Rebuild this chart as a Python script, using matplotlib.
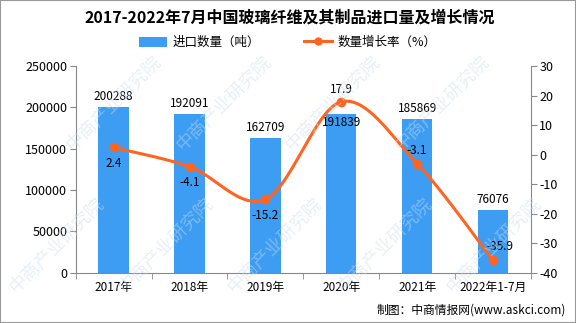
import matplotlib
matplotlib.use('Agg')
import matplotlib.pyplot as plt
import numpy as np
from matplotlib.patches import Rectangle
from matplotlib.lines import Line2D
from matplotlib.patches import Patch

plt.rcParams['font.family'] = ['Noto Sans CJK SC', 'DejaVu Sans']
plt.rcParams['axes.unicode_minus'] = False

categories = ['2017年', '2018年', '2019年', '2020年', '2021年', '2022年1-7月']
imports = [200288, 192091, 162709, 191839, 185869, 76076]
growth = [2.4, -4.1, -15.2, 17.9, -3.1, -35.9]

BAR_COLOR = '#3d9df3'
LINE_COLOR = '#ff6420'

fig = plt.figure(figsize=(5.76, 3.23), dpi=100)
ax = fig.add_axes([0.1314, 0.1563, 0.7905, 0.6393])
ax2 = ax.twinx()

x = np.arange(len(categories))
ax.bar(x, imports, width=0.4, color=BAR_COLOR, zorder=2)
ax.set_xlim(-0.5, len(categories) - 0.5)
ax.set_ylim(0, 250000)
ax.set_yticks(np.arange(0, 250001, 50000))
ax.set_xticks(x)
ax.set_xticklabels(categories, fontsize=8.5)
ax.set_xticks(np.arange(-0.5, len(categories), 1), minor=True)
ax.tick_params(axis='x', which='major', length=0, pad=6)
ax.tick_params(axis='x', which='minor', length=4, color='#888888')
ax.tick_params(axis='y', length=4, color='#888888', labelsize=9, pad=2)

for s in ['top', 'right']:
    ax.spines[s].set_visible(False)
for s in ['left', 'bottom']:
    ax.spines[s].set_color('#888888')

# bar value labels
bar_offsets = [0, 0, 0, -14, 0, 0]
for xi, v, off in zip(x, imports, bar_offsets):
    ax.annotate(str(v), (xi, v), xytext=(0, 3 + off), textcoords='offset points',
                ha='center', va='bottom', fontsize=8.5, zorder=5)

# growth rate line, drawn as a smooth Catmull-Rom curve through the points
ax2.set_ylim(-40, 30)
ax2.set_yticks(np.arange(-40, 31, 10))
ax2.tick_params(axis='y', length=4, color='#888888', labelsize=9, pad=2)
for s in ['top', 'left', 'bottom']:
    ax2.spines[s].set_visible(False)
ax2.spines['right'].set_color('#888888')

px = np.array(x, dtype=float)
py = np.array(growth, dtype=float)
ext_x = np.concatenate([[px[0]], px, [px[-1]]])
ext_y = np.concatenate([[py[0]], py, [py[-1]]])
cx, cy = [], []
for i in range(1, len(ext_x) - 2):
    p0, p1, p2, p3 = [np.array([ext_x[j], ext_y[j]]) for j in (i - 1, i, i + 1, i + 2)]
    t = np.linspace(0, 1, 30)[:, None]
    seg = 0.5 * ((2 * p1) + (-p0 + p2) * t + (2 * p0 - 5 * p1 + 4 * p2 - p3) * t ** 2
                 + (-p0 + 3 * p1 - 3 * p2 + p3) * t ** 3)
    cx.extend(seg[:, 0])
    cy.extend(seg[:, 1])
ax2.plot(cx, cy, color=LINE_COLOR, lw=2.2, zorder=3, solid_capstyle='round')
ax2.plot(px, py, 'o', color=LINE_COLOR, ms=6, zorder=4)

# growth labels: (dx, dy) offsets in points
growth_offsets = [(0, -16), (0, -16), (0, -16), (0, 4), (0, 5), (5, 5)]
for xi, v, (dx, dy) in zip(px, growth, growth_offsets):
    ax2.annotate(f'{v:g}', (xi, v), xytext=(dx, dy), textcoords='offset points',
                 ha='center', va='bottom', fontsize=8.5, zorder=6)

# watermark
for wx, wy in [(0.01, 0.08), (0.20, 0.08), (0.39, 0.08), (0.58, 0.08), (0.77, 0.08),
               (0.11, 0.52), (0.30, 0.52), (0.49, 0.52), (0.68, 0.52)]:
    fig.text(wx, wy, '中商产业研究院', rotation=45, fontsize=13, color='#c9ddf0',
             alpha=0.45, ha='left', va='bottom', zorder=0)

fig.text(0.503, 0.945, '2017-2022年7月中国玻璃纤维及其制品进口量及增长情况',
         ha='center', va='center', fontsize=11.5, fontweight='bold')

handles = [Patch(facecolor=BAR_COLOR, label='进口数量（吨）'),
           Line2D([0], [0], color=LINE_COLOR, lw=2.2, marker='o', ms=5, label='数量增长率（%）')]
fig.legend(handles=handles, loc='center', bbox_to_anchor=(0.5, 0.868), ncol=2,
           frameon=False, fontsize=9, handlelength=2.2, handleheight=0.9,
           columnspacing=3.5, handletextpad=0.5)

fig.text(0.983, 0.04, '制图：中商情报网(www.askci.com)', ha='right', va='center', fontsize=8.5)

fig.add_artist(Rectangle((0, 0), 1, 1, transform=fig.transFigure, fill=False,
                         edgecolor='#999999', lw=1.5))

fig.savefig('out.png', dpi=100)
